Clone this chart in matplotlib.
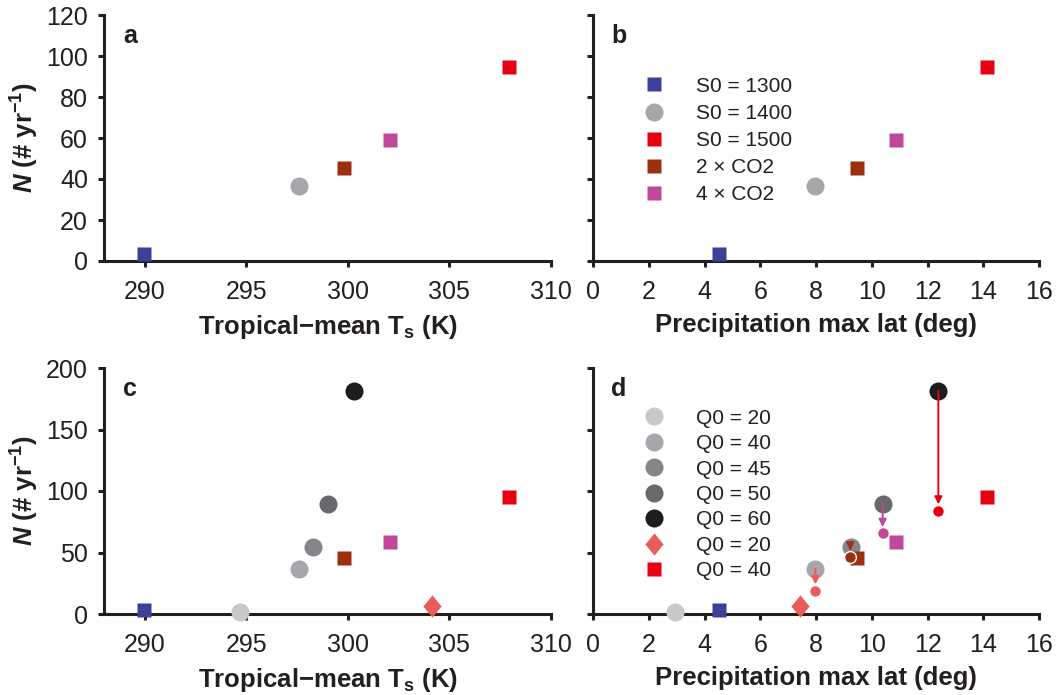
import numpy as np
import matplotlib
matplotlib.use('Agg')
import matplotlib.pyplot as plt

plt.rcParams['font.family'] = ['Liberation Sans', 'DejaVu Sans']
plt.rcParams['mathtext.fontset'] = 'custom'
plt.rcParams['mathtext.rm'] = 'Liberation Sans:bold'
plt.rcParams['mathtext.bf'] = 'Liberation Sans:bold'
plt.rcParams['mathtext.it'] = 'Liberation Sans:bold:italic'

ink = '#231f20'

# S0 and CO2 runs
s0_labels = ['S0 = 1300', 'S0 = 1400', 'S0 = 1500', '2 × CO2', '4 × CO2']
s0_colors = ['#3b4099', '#a7a7ab', '#e60012', '#9e2f0e', '#c1479a']
s0_markers = ['s', 'o', 's', 's', 's']
s0_ts = [289.95, 297.6, 307.95, 299.8, 302.1]
s0_lat = [4.53, 7.98, 14.12, 9.46, 10.87]
s0_n = [3.2, 36.8, 94.8, 45.3, 58.8]

# Q0 runs
q0_labels = ['Q0 = 20', 'Q0 = 40', 'Q0 = 45', 'Q0 = 50', 'Q0 = 60']
q0_colors = ['#c8c8ca', '#a7a7ab', '#86868a', '#69696d', '#1d1d20']
q0_ts = [294.7, 297.6, 298.3, 299.0, 300.3]
q0_lat = [2.94, 7.98, 9.24, 10.39, 12.39]
q0_n = [1.4, 36.8, 54.2, 89.2, 181.6]

# Q0 = 20 diamond run
dia_label = 'Q0 = 20'
dia_color = '#e85c5c'
dia_ts = 304.15
dia_lat = 7.43
dia_n = 6.6

# reduced N for Q0 = 40, 45, 50, 60 (arrows in d)
adj_lat = [7.98, 9.23, 10.39, 12.39]
adj_n_from = [36.8, 54.2, 89.2, 181.6]
adj_n = [19.0, 46.6, 65.6, 84.0]
adj_colors = ['#e85c5c', '#9e2f0e', '#c1479a', '#e60012']

marker_size = {'s': 10, 'o': 13}
diamond = [(0, 1), (0.82, 0), (0, -1), (-0.82, 0)]


def point(ax, x, y, color, marker, ms, **kw):
    return ax.plot([x], [y], linestyle='none', marker=marker, ms=ms, color=color,
                   mec='none', clip_on=False, zorder=3, **kw)[0]


def style_axes(ax, xlim, xticks, ylim, yticks, xlabel, ylabel, letter):
    ax.set_xlim(xlim)
    ax.set_ylim(ylim)
    ax.set_xticks(xticks)
    ax.set_yticks(yticks)
    for side in ['top', 'right']:
        ax.spines[side].set_visible(False)
    for side in ['left', 'bottom']:
        ax.spines[side].set_linewidth(2.2)
        ax.spines[side].set_color(ink)
    ax.tick_params(direction='out', length=4.5, width=2.2, color=ink,
                   labelsize=18, labelcolor=ink)
    ax.tick_params(axis='x', pad=9.5)
    ax.tick_params(axis='y', pad=7)
    ax.set_xlabel(xlabel, fontsize=18.5, fontweight='bold', color=ink, labelpad=6)
    if ylabel:
        ax.set_ylabel(ylabel, fontsize=18.5, fontweight='bold', color=ink)
        ax.yaxis.set_label_coords(-0.142, 0.5)
    else:
        ax.tick_params(axis='y', labelleft=False)
    ax.text(0.058, 0.915, letter, transform=ax.transAxes, fontsize=18,
            fontweight='bold', color=ink, ha='center', va='center')


fig = plt.figure(figsize=(10.56, 6.95), dpi=100)
W, H = 1056, 695


def axes_px(x0, x1, y0, y1):
    return fig.add_axes([x0 / W, 1 - y1 / H, (x1 - x0) / W, (y1 - y0) / H])


ax_a = axes_px(104, 551, 15, 261)
ax_b = axes_px(593, 1039, 15, 261)
ax_c = axes_px(104, 551, 368, 614)
ax_d = axes_px(593, 1039, 368, 614)

ts_label = 'Tropical\u2212mean T$_\\mathbf{s}$ (K)'
lat_label = 'Precipitation max lat (deg)'
n_label = '$N$ (# yr$^{\\mathbf{-1}}$)'

# a: N against tropical-mean temperature
for x, y, c, m in zip(s0_ts, s0_n, s0_colors, s0_markers):
    point(ax_a, x, y, c, m, marker_size[m])
style_axes(ax_a, (288, 310), [290, 295, 300, 305, 310], (0, 120), range(0, 121, 20),
           ts_label, n_label, 'a')

# b: N against latitude of precipitation maximum
handles_b = []
for x, y, c, m in zip(s0_lat, s0_n, s0_colors, s0_markers):
    handles_b.append(point(ax_b, x, y, c, m, marker_size[m]))
style_axes(ax_b, (0, 16), range(0, 17, 2), (0, 120), range(0, 121, 20),
           lat_label, None, 'b')
ax_b.legend(handles_b, s0_labels, loc='upper left', bbox_to_anchor=(0.09, 0.749),
            frameon=False, fontsize=15, borderpad=0, borderaxespad=0,
            handlelength=2, handletextpad=1.0, labelspacing=0.39, labelcolor=ink)

# c: all runs against temperature
for x, y, c in zip(q0_ts, q0_n, q0_colors):
    point(ax_c, x, y, c, 'o', 13)
for x, y, c, m in zip(s0_ts, s0_n, s0_colors, s0_markers):
    if m == 's':
        point(ax_c, x, y, c, m, marker_size[m])
point(ax_c, dia_ts, dia_n, dia_color, diamond, 16)
style_axes(ax_c, (288, 310), [290, 295, 300, 305, 310], (0, 200), range(0, 201, 50),
           ts_label, n_label, 'c')

# d: all runs against latitude, with reductions shown as arrows
handles_d = []
for x, y, c in zip(q0_lat, q0_n, q0_colors):
    handles_d.append(point(ax_d, x, y, c, 'o', 13))
sq_handles = []
for x, y, c, m in zip(s0_lat, s0_n, s0_colors, s0_markers):
    if m == 's':
        sq_handles.append(point(ax_d, x, y, c, m, marker_size[m]))
handles_d.append(point(ax_d, dia_lat, dia_n, dia_color, diamond, 16))
handles_d.append(sq_handles[1])
for x, y0, y1, c in zip(adj_lat, adj_n_from, adj_n, adj_colors):
    ax_d.annotate('', xy=(x, y1), xytext=(x, y0), zorder=5,
                  arrowprops=dict(arrowstyle='-|>', color=c, lw=1.4,
                                  mutation_scale=11, shrinkA=0, shrinkB=4.5))
    ax_d.plot([x], [y1], linestyle='none', marker='o', ms=8.5, color=c,
              mec='white', mew=1, zorder=6)
style_axes(ax_d, (0, 16), range(0, 17, 2), (0, 200), range(0, 201, 50),
           lat_label, None, 'd')
ax_d.legend(handles_d, q0_labels + ['Q0 = 20', 'Q0 = 40'], loc='upper left',
            bbox_to_anchor=(0.09, 0.835), frameon=False, fontsize=15, borderpad=0,
            borderaxespad=0, handlelength=2, handletextpad=1.0, labelspacing=0.31,
            labelcolor=ink)

fig.savefig('out.png', dpi=100)
